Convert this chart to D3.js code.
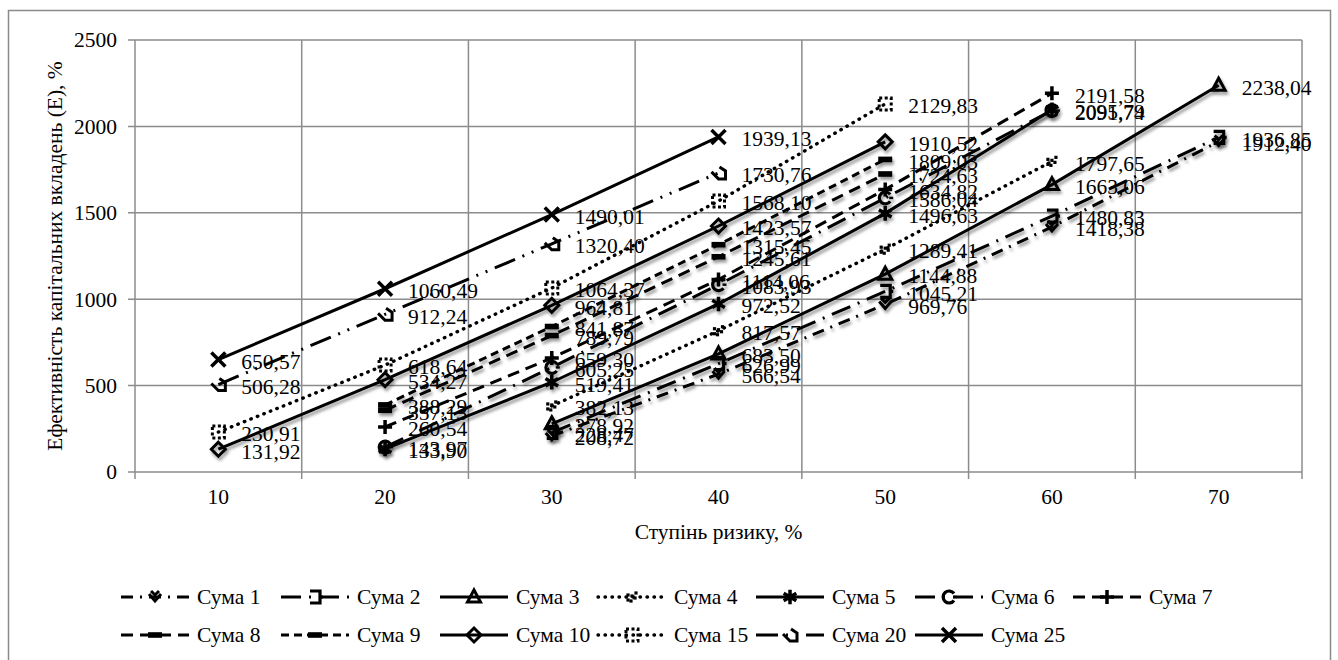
<!DOCTYPE html>
<html>
<head>
<meta charset="utf-8">
<script src="https://cdn.jsdelivr.net/npm/d3@7/dist/d3.min.js"></script>
<style>
  html, body { margin: 0; padding: 0; background: #fff; }
</style>
</head>
<body>
<svg id="chart" width="1338" height="660"></svg>
<script>
// Risk degree categories (x axis)
const categories = ["10", "20", "30", "40", "50", "60", "70"];
// Y axis ticks
const yTicks = [0, 500, 1000, 1500, 2000, 2500];

// Capital investment efficiency per investment sum (null = no value)
const suma1  = [null, null, 208.72, 566.54, 969.76, 1418.38, 1912.40];
const suma2  = [null, null, 228.47, 626.99, 1045.21, 1480.83, 1936.85];
const suma3  = [null, null, 278.92, 683.50, 1144.88, 1663.06, 2238.04];
const suma4  = [null, null, 382.13, 817.57, 1289.41, 1797.65, null];
const suma5  = [null, 133.90, 519.41, 972.52, 1496.63, 2095.79, null];
const suma6  = [null, 143.97, 605.25, 1083.93, 1586.04, 2091.74, null];
const suma7  = [null, 260.54, 659.30, 1114.06, 1634.82, 2191.58, null];
const suma8  = [null, 357.13, 789.79, 1245.61, 1724.63, null, null];
const suma9  = [null, 388.29, 841.87, 1315.45, 1809.03, null, null];
const suma10 = [131.92, 534.27, 964.81, 1423.57, 1910.52, null, null];
const suma15 = [230.91, 618.64, 1064.37, 1568.10, 2129.83, null, null];
const suma20 = [506.28, 912.24, 1320.40, 1730.76, null, null, null];
const suma25 = [650.57, 1060.49, 1490.01, 1939.13, null, null, null];

const seriesNames = ["Сума 1", "Сума 2", "Сума 3", "Сума 4", "Сума 5", "Сума 6", "Сума 7",
                     "Сума 8", "Сума 9", "Сума 10", "Сума 15", "Сума 20", "Сума 25"];
const seriesValues = [suma1, suma2, suma3, suma4, suma5, suma6, suma7,
                      suma8, suma9, suma10, suma15, suma20, suma25];

// Line styles and marker kinds for each series
const styles = [
  { dash: "12,7,2,7", marker: "chevron", shadow: true },
  { dash: "20,8,2,8", marker: "bracket", shadow: true },
  { dash: null, marker: "triangle", shadow: true },
  { dash: "0.5,6.5", marker: "dots", shadow: false, cap: "round" },
  { dash: null, marker: "star", shadow: true },
  { dash: "20,8,2,8", marker: "ring", shadow: true },
  { dash: "12,7", marker: "plus", shadow: false },
  { dash: "12,7", marker: "bar", shadow: true },
  { dash: "8,5", marker: "bar", shadow: true },
  { dash: null, marker: "diamond", shadow: true },
  { dash: "0.5,6.5", marker: "dotsquare", shadow: false, cap: "round" },
  { dash: "22,8,2,8,2,8", marker: "corner", shadow: false },
  { dash: null, marker: "cross", shadow: false }
];

const FONT_FAMILY = "\"Liberation Serif\", \"Times New Roman\", serif";
const svg = d3.select("#chart");
const FONT = 21.5;

// Drop shadow under some series
const defs = svg.append("defs");
const f = defs.append("filter").attr("id", "shade")
  .attr("x", "-20%").attr("y", "-20%").attr("width", "140%").attr("height", "160%");
f.append("feDropShadow").attr("dx", 1.5).attr("dy", 3).attr("stdDeviation", 1.8)
  .attr("flood-color", "#000").attr("flood-opacity", 0.4);

// Outer frame
svg.append("rect")
  .attr("x", 8.5).attr("y", 10.5).attr("width", 1322).attr("height", 670)
  .attr("fill", "none").attr("stroke", "#8a8a8a").attr("stroke-width", 1.5);

const plot = { left: 135, right: 1302, top: 40, bottom: 472 };
const x = d3.scaleBand().domain(categories).range([plot.left, plot.right]).padding(0);
const y = d3.scaleLinear().domain([0, 2500]).range([plot.bottom, plot.top]);
const cx = c => x(c) + x.bandwidth() / 2;

function label(sel) {
  return sel.style("font-family", FONT_FAMILY).style("font-size", FONT + "px").attr("fill", "#000");
}

const grid = svg.append("g").attr("stroke", "#8c8c8c").attr("stroke-width", 1.5);
// horizontal gridlines and left ticks
yTicks.forEach(t => {
  grid.append("line").attr("x1", plot.left - 7).attr("x2", plot.right)
    .attr("y1", y(t)).attr("y2", y(t));
});
// vertical gridlines at category boundaries, extending as ticks below the axis
const edges = categories.map(c => x(c)).concat([plot.right]);
edges.forEach(e => {
  grid.append("line").attr("x1", e).attr("x2", e)
    .attr("y1", plot.top).attr("y2", plot.bottom + 7);
});

// Y tick labels
svg.append("g").selectAll("text").data(yTicks).join("text")
  .attr("x", plot.left - 18).attr("y", d => y(d)).attr("dy", "0.34em")
  .attr("text-anchor", "end").call(label).text(d => d);

// X tick labels
svg.append("g").selectAll("text").data(categories).join("text")
  .attr("x", d => cx(d)).attr("y", plot.bottom + 32)
  .attr("text-anchor", "middle").call(label).text(d => d);

// Axis titles
svg.append("text").attr("x", (plot.left + plot.right) / 2).attr("y", 539)
  .attr("text-anchor", "middle").call(label).text("Ступінь ризику, %");
svg.append("text")
  .attr("transform", `translate(62,${(plot.top + plot.bottom) / 2}) rotate(-90)`)
  .attr("text-anchor", "middle").call(label)
  .text("Ефективність капітальних вкладень (Е), %");

// Marker drawing
function drawMarker(g, kind, px, py) {
  const m = g.append("g").attr("transform", `translate(${px},${py})`);
  const stroke = (sel, w) => sel.attr("fill", "none").attr("stroke", "#000").attr("stroke-width", w);
  switch (kind) {
    case "chevron":
      stroke(m.append("path").attr("d", "M-6,-3 L0,4 L6,-3 M-4,-6 L0,-2 L4,-6"), 3);
      break;
    case "bracket":
      stroke(m.append("path").attr("d", "M-5,-6 H5 V6 H-5 M5,0 H8"), 3.2);
      break;
    case "triangle":
      stroke(m.append("path").attr("d", "M0,-7 L6.5,5 H-6.5 Z"), 3).attr("stroke-linejoin", "miter");
      break;
    case "dots":
      [[-4, 3], [0, -1], [4, -4], [-1, 4], [3, 1], [-4, -2]].forEach(p =>
        m.append("rect").attr("x", p[0] - 1.6).attr("y", p[1] - 1.6).attr("width", 3.2).attr("height", 3.2).attr("fill", "#000"));
      break;
    case "star":
      stroke(m.append("path").attr("d", d3.symbol(d3.symbolAsterisk, 150)()), 3.5);
      m.append("circle").attr("r", 3.5).attr("fill", "#000");
      break;
    case "ring":
      stroke(m.append("path").attr("d", "M5,-3.5 A6,6 0 1 0 5,3.5"), 3.2);
      m.append("rect").attr("x", 4).attr("y", -1.2).attr("width", 4).attr("height", 2.4).attr("fill", "#000");
      break;
    case "plus":
      stroke(m.append("path").attr("d", "M-7,0 H7 M0,-7 V7"), 3.5);
      break;
    case "bar":
      m.append("rect").attr("x", -7).attr("y", -2.8).attr("width", 14).attr("height", 5.6).attr("fill", "#000");
      break;
    case "diamond":
      stroke(m.append("path").attr("d", "M0,-7 L7,0 L0,7 L-7,0 Z"), 3);
      break;
    case "dotsquare":
      stroke(m.append("rect").attr("x", -6).attr("y", -6).attr("width", 12).attr("height", 12), 3)
        .attr("stroke-dasharray", "3,2.5");
      break;
    case "corner":
      stroke(m.append("path").attr("d", "M-7,-1 L0,6 H7 V-2 L1,-6"), 3);
      break;
    case "cross":
      stroke(m.append("path").attr("d", "M-7,-7 L7,7 M7,-7 L-7,7"), 3.5);
      break;
  }
}

const fmt = v => d3.format(".2f")(v).replace(".", ",");

// Series lines and markers
const lineGen = d3.line().defined(d => d.v != null).x(d => cx(d.c)).y(d => y(d.v));
const seriesData = seriesValues.map(vals => categories.map((c, i) => ({ c, v: vals[i] })));

seriesData.forEach((pts, si) => {
  const st = styles[si];
  const g = svg.append("g");
  if (st.shadow) g.attr("filter", "url(#shade)");
  g.append("path").datum(pts).attr("d", lineGen)
    .attr("fill", "none").attr("stroke", "#000")
    .attr("stroke-width", st.cap ? 3.4 : 3)
    .attr("stroke-linecap", st.cap || "butt")
    .attr("stroke-dasharray", st.dash);
  pts.filter(d => d.v != null).forEach(d => drawMarker(g, st.marker, cx(d.c), y(d.v)));
});

// Data labels
const labels = svg.append("g");
seriesData.forEach(pts => {
  pts.filter(d => d.v != null).forEach(d => {
    labels.append("text").attr("x", cx(d.c) + 23).attr("y", y(d.v) + 2)
      .attr("dy", "0.34em").call(label).text(fmt(d.v));
  });
});

// Legend
const legendTextX = [197, 357, 516, 674, 832, 991, 1149];
const legendRowY = [597, 635];
const legend = svg.append("g");
seriesNames.forEach((name, i) => {
  const row = i < 7 ? 0 : 1;
  const col = i < 7 ? i : i - 7;
  const tx = legendTextX[col];
  const ly = legendRowY[row];
  const st = styles[i];
  const g = legend.append("g");
  const x0 = tx - 76, x1 = tx - 8;
  g.append("line").attr("x1", x0).attr("x2", x1).attr("y1", ly).attr("y2", ly)
    .attr("stroke", "#000").attr("stroke-width", st.cap ? 3.4 : 3)
    .attr("stroke-linecap", st.cap || "butt")
    .attr("stroke-dasharray", st.dash);
  drawMarker(g, st.marker, (x0 + x1) / 2, ly);
  legend.append("text").attr("x", tx).attr("y", ly).attr("dy", "0.34em")
    .call(label).text(name);
});
</script>
</body>
</html>
